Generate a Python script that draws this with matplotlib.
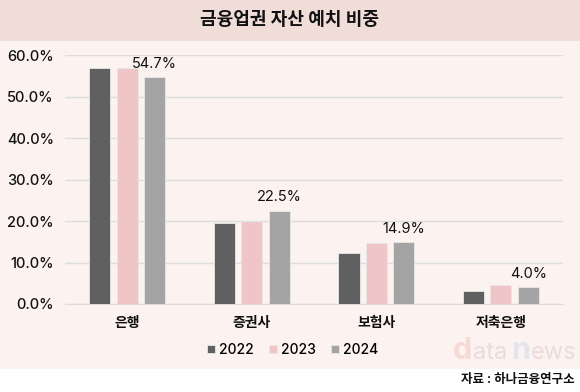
import matplotlib
matplotlib.use('Agg')
import matplotlib.pyplot as plt
from matplotlib.patches import Rectangle
import numpy as np

# Inter for digits, Korean falls back to Noto Sans CJK KR
plt.rcParams['font.family'] = ['Inter', 'Noto Sans CJK KR', 'DejaVu Sans']

# data
categories = ['은행', '증권사', '보험사', '저축은행']
years = ['2022', '2023', '2024']
v2022 = [57.0, 19.6, 12.3, 3.2]
v2023 = [57.0, 20.0, 14.7, 4.6]
v2024 = [54.7, 22.5, 14.9, 4.0]
colors = ['#5f605f', '#f0c5c7', '#a4a4a4']

fig = plt.figure(figsize=(5.8, 3.92), dpi=100)
fig.patch.set_facecolor('white')

# background bands
fig.add_artist(Rectangle((0, 0.895), 1, 0.105, transform=fig.transFigure,
                         facecolor='#f0ddd7', edgecolor='none', zorder=0))
fig.add_artist(Rectangle((0, 0.058), 1, 0.837, transform=fig.transFigure,
                         facecolor='#fcf2f0', edgecolor='none', zorder=0))

fig.text(0.5, 0.948, '금융업권 자산 예치 비중', ha='center', va='center',
         fontsize=13, fontweight='bold', color='#111111')

ax = fig.add_axes([0.112, 0.2245, 0.859, 0.635])
ax.set_facecolor('none')

x = np.arange(len(categories))
w = 0.17
step = 0.22
for i, (vals, c, yr) in enumerate(zip([v2022, v2023, v2024], colors, years)):
    ax.bar(x + (i - 1) * step, vals, width=w, color=c, edgecolor='#e8e8e8',
           linewidth=0.6, label=yr, zorder=3)

# value labels on the 2024 bars
for xi, v in zip(x, v2024):
    ax.text(xi + step, v + 1.5, f'{v:.1f}%', ha='center', va='bottom',
            fontsize=10.5, color='#111111')

ax.set_xlim(-0.5, len(categories) - 0.5)
ax.set_ylim(0, 60)
ax.set_yticks(np.arange(0, 61, 10))
ax.set_yticklabels([f'{t:.1f}%' for t in range(0, 61, 10)])
ax.set_xticks(x)
ax.set_xticklabels(categories)
ax.tick_params(axis='both', length=0, labelsize=10.5, colors='#111111')
ax.tick_params(axis='x', pad=9)
ax.tick_params(axis='y', pad=8)
for lab in ax.get_xticklabels():
    lab.set_fontweight('bold')
    lab.set_fontsize(10)
for lab in ax.get_yticklabels():
    lab.set_fontweight('medium')
ax.grid(axis='y', color='#dddddd', linewidth=1, zorder=0)
for s in ['top', 'right', 'left']:
    ax.spines[s].set_visible(False)
ax.spines['bottom'].set_color('#dddddd')

leg = fig.legend(loc='center', bbox_to_anchor=(0.505, 0.107), ncol=3, frameon=False,
                 prop={'size': 10, 'weight': 'medium'}, handlelength=0.55,
                 handleheight=0.55, handletextpad=0.3, columnspacing=1.1)

# watermark
fig.text(0.78, 0.105, 'd', fontsize=22, color='#f7d9d5', ha='left', va='center', fontweight='bold')
fig.text(0.815, 0.100, 'ata', fontsize=17, color='#eadcdc', ha='left', va='center')
fig.text(0.882, 0.105, 'n', fontsize=22, color='#e3e5ec', ha='left', va='center', fontweight='bold')
fig.text(0.915, 0.100, 'ews', fontsize=17, color='#eadcdc', ha='left', va='center')

fig.text(0.99, 0.03, '자료 : 하나금융연구소', ha='right', va='center',
         fontsize=9, fontweight='bold', color='#111111')

fig.savefig('out.png', dpi=100)
